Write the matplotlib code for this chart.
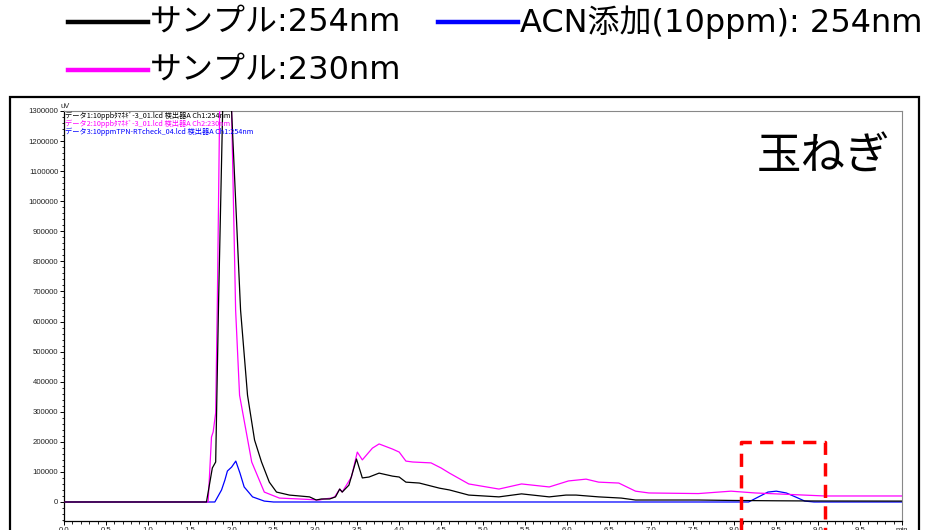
import matplotlib
matplotlib.use("Agg")
import matplotlib.pyplot as plt
from matplotlib.lines import Line2D
from matplotlib.patches import Rectangle

plt.rcParams['font.family'] = ['Noto Sans CJK JP', 'DejaVu Sans']

# ---- data ----
t_black = [0.0, 1.70, 1.77, 1.81, 1.845, 1.893, 1.94, 2.00, 2.107, 2.19, 2.274, 2.357,
           2.45, 2.536, 2.69, 2.93, 3.01, 3.07, 3.17, 3.24, 3.29, 3.32, 3.40, 3.49,
           3.56, 3.64, 3.76, 3.92, 4.00, 4.08, 4.24, 4.48, 4.60, 4.83, 5.19, 5.46,
           5.79, 5.99, 6.11, 6.38, 6.65, 6.82, 7.33, 7.57, 8.0, 8.5, 9.0, 10.0]
v_black = [0, 0, 113000, 133000, 671000, 1300000, 1700000, 1300000, 638000, 355000,
           206000, 133000, 66000, 33000, 23000, 17000, 6600, 10000, 10000, 17000,
           43000, 33000, 56000, 143000, 80000, 83000, 96000, 86000, 83000, 66000,
           63000, 46000, 40000, 23000, 17000, 27000, 17000, 23000, 23000, 17000,
           13000, 6600, 6600, 6600, 5000, 4000, 3300, 3000]

t_mag = [0.0, 1.72, 1.76, 1.78, 1.81, 1.83, 1.857, 1.93, 2.00, 2.048, 2.095, 2.24,
         2.39, 2.57, 2.81, 3.05, 3.10, 3.19, 3.23, 3.29, 3.32, 3.43, 3.50, 3.56,
         3.68, 3.76, 3.92, 4.00, 4.08, 4.16, 4.38, 4.50, 4.60, 4.83, 5.19, 5.46,
         5.79, 6.02, 6.23, 6.38, 6.62, 6.82, 6.98, 7.57, 7.96, 8.25, 9.08, 10.0]
v_mag = [0, 0, 216000, 233000, 296000, 671000, 1300000, 1900000, 1300000, 638000,
         355000, 133000, 33000, 13000, 10000, 6600, 10000, 13000, 17000, 43000,
         33000, 83000, 166000, 140000, 179000, 193000, 176000, 166000, 136000,
         133000, 130000, 113000, 96000, 60000, 43000, 60000, 50000, 70000, 76000,
         66000, 63000, 36000, 30000, 28000, 36000, 30000, 20000, 20000]

t_blue = [0.0, 1.80, 1.88, 1.92, 1.95, 2.00, 2.05, 2.10, 2.15, 2.25, 2.39, 2.50,
          8.17, 8.26, 8.40, 8.50, 8.62, 8.76, 8.84, 8.95, 10.0]
v_blue = [0, 0, 40000, 73000, 103000, 116000, 136000, 96000, 50000, 17000, 3000, 0,
          0, 13000, 33000, 36000, 30000, 13000, 3000, 0, 0]

legend_labels = ['サンプル:254nm', 'ACN添加(10ppm): 254nm', 'サンプル:230nm']
file_labels = ['データ1:10ppbﾀﾏﾈｷﾞ-3_01.lcd 検出器A Ch1:254nm',
               'データ2:10ppbﾀﾏﾈｷﾞ-3_01.lcd 検出器A Ch2:230nm',
               'データ3:10ppmTPN-RTcheck_04.lcd 検出器A Ch1:254nm']
sample_name = '玉ねぎ'
x_ticks = [i * 0.5 for i in range(21)]
x_ticklabels = ['%.1f' % v for v in x_ticks[:-1]] + ['min']
y_ticks = [i * 100000 for i in range(14)]
y_ticklabels = [str(v) for v in y_ticks]
box_x = [8.08, 9.08]
box_top = 200000

C_BLACK = '#000000'
C_MAG = '#ff00ff'
C_BLUE = '#0000ff'

W, H = 926, 530
fig = plt.figure(figsize=(W / 100, H / 100), dpi=100)

def fx(px):
    return px / W

def fy(py):
    return (H - py) / H

ax = fig.add_axes([fx(64), fy(521), fx(902) - fx(64), fy(111) - fy(521)])
ax.plot(t_blue, v_blue, color=C_BLUE, lw=0.9, zorder=2)
ax.plot(t_mag, v_mag, color=C_MAG, lw=0.9, zorder=3)
ax.plot(t_black, v_black, color=C_BLACK, lw=0.9, zorder=4)

ax.set_xlim(0, 10.0)
ax.set_ylim(-63200, 1300000)
ax.set_xticks(x_ticks)
ax.set_xticklabels(x_ticklabels)
ax.set_xticks([i * 0.1 for i in range(101)], minor=True)
ax.set_yticks(y_ticks)
ax.set_yticklabels(y_ticklabels)
ax.set_yticks([i * 20000 for i in range(-3, 66)], minor=True)
for lab in ax.get_xticklabels() + ax.get_yticklabels():
    lab.set_fontfamily(['Liberation Sans', 'DejaVu Sans'])
    lab.set_fontsize(5.6)
    lab.set_color('#222222')
ax.tick_params(axis='both', which='major', direction='out', length=3, width=0.7,
               pad=1, colors='#000000', labelcolor='#222222')
ax.tick_params(axis='both', which='minor', direction='out', length=1.8, width=0.6,
               colors='#000000')
ax.tick_params(axis='x', which='both', top=False)
ax.tick_params(axis='y', which='both', right=False)
ax.spines['left'].set_linewidth(0.9)
ax.spines['bottom'].set_linewidth(0.9)
ax.spines['right'].set_color('#888888')
ax.spines['right'].set_linewidth(0.8)
ax.spines['top'].set_color('#888888')
ax.spines['top'].set_linewidth(0.8)

# red dashed box
ax.plot([box_x[0], box_x[0], box_x[1], box_x[1]],
        [-400000, box_top, box_top, -400000], color='red', lw=2.5,
        dashes=(3.8, 2.4), clip_on=False, zorder=6, solid_capstyle='butt')

# file labels inside plot
file_colors = [C_BLACK, C_MAG, C_BLUE]
for i, (lab, col) in enumerate(zip(file_labels, file_colors)):
    fig.text(fx(65), fy(116 + 8 * i), lab, color=col, fontsize=5.2,
             va='center', ha='left')
fig.text(fx(60), fy(106), 'uV', fontsize=5.4, color='#222222',
         family=['Liberation Sans', 'DejaVu Sans'], va='center', ha='left')

# sample name
fig.text(fx(757), fy(157), sample_name, fontsize=32, va='center', ha='left')

# outer frame
fig.add_artist(Rectangle((fx(10), -0.1), fx(919) - fx(10), fy(97) + 0.1,
                         transform=fig.transFigure, fill=False,
                         edgecolor='black', lw=1.6))

# legend (top)
leg_items = [(68, 148, 22, C_BLACK, legend_labels[0]),
             (438, 518, 22, C_BLUE, legend_labels[1]),
             (68, 148, 70, C_MAG, legend_labels[2])]
for x0, x1, yy, col, lab in leg_items:
    fig.add_artist(Line2D([fx(x0), fx(x1)], [fy(yy), fy(yy)],
                          transform=fig.transFigure, color=col, lw=3.2))
    fig.text(fx(x1 + 2), fy(yy), lab, fontsize=23, va='center', ha='left',
             family=['DejaVu Sans', 'Noto Sans CJK JP'])

fig.savefig('out.png', dpi=100)
